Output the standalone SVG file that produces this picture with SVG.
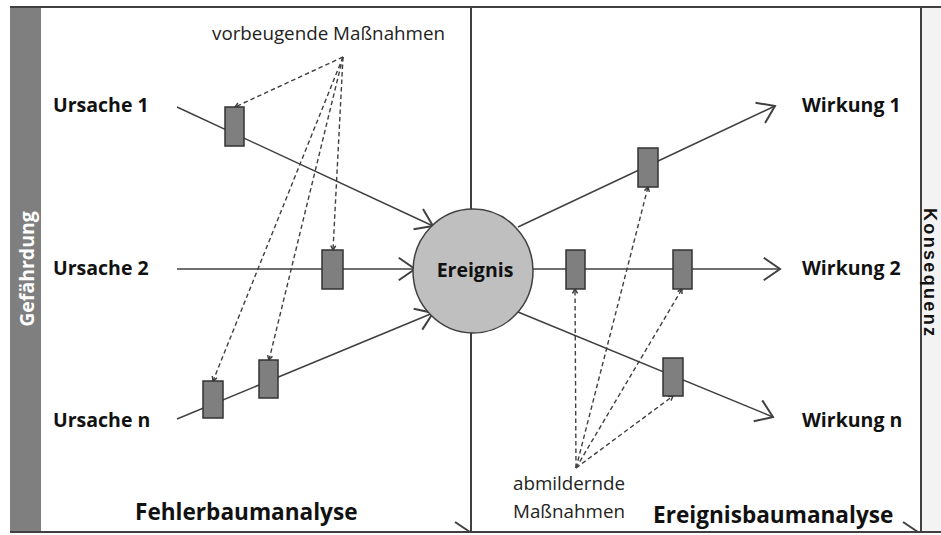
<svg xmlns="http://www.w3.org/2000/svg" width="941" height="535" viewBox="0 0 941 535">
  <style>
    .frame { stroke: #404040; stroke-width: 2; fill: none; }
    .flow { stroke: #404040; stroke-width: 1.5; fill: none; marker-end: url(#open); }
    .measure { stroke: #404040; stroke-width: 1.4; fill: none; stroke-dasharray: 4.5 3; marker-end: url(#tip); }
    .barrier { fill: #7f7f7f; stroke: #333333; stroke-width: 1.5; }
    .label { font-family: "Open Sans", "Liberation Sans", sans-serif; font-weight: bold; font-size: 19.5px; fill: #111111; }
    .note { font-family: "Open Sans", "Liberation Sans", sans-serif; font-size: 18.8px; fill: #222222; }
    .title { font-family: "Open Sans", "Liberation Sans", sans-serif; font-weight: bold; font-size: 22.6px; fill: #111111; }
  </style>
  <defs>
    <marker id="open" markerUnits="userSpaceOnUse" markerWidth="30" markerHeight="30" viewBox="-16 -12 20 24" refX="0" refY="0" orient="auto">
      <path d="M-13,-9 L0,0 L-13,9" fill="none" stroke="#404040" stroke-width="1.6"/>
    </marker>
    <marker id="tip" markerUnits="userSpaceOnUse" markerWidth="10" markerHeight="10" viewBox="-6 -4 8 8" refX="0" refY="0" orient="auto">
      <path d="M-3.5,-2 L0,0 L-3.5,2" fill="none" stroke="#404040" stroke-width="1.2"/>
    </marker>
  </defs>

  <rect width="941" height="535" fill="#ffffff"/>

  <!-- frame: side bars, border lines, centre divider -->
  <g id="frame">
    <rect x="10" y="7" width="31" height="525" fill="#7f7f7f"/>
    <rect x="921" y="7" width="20" height="525" fill="#f3f3f3"/>
    <line class="frame" x1="10" y1="7" x2="941" y2="7"/>
    <line class="frame" x1="10" y1="532" x2="941" y2="532"/>
    <line class="frame" x1="471" y1="7" x2="471" y2="532"/>
    <line class="frame" x1="921" y1="7" x2="921" y2="532"/>
    <path class="frame" d="M455,522 L470,532 M903,522 L918,532" stroke-width="1.6"/>
    <text transform="translate(34,269) rotate(-90)" text-anchor="middle" font-family="Open Sans, Liberation Sans, sans-serif" font-weight="bold" font-size="19.5" fill="#ffffff">Gefährdung</text>
    <text transform="translate(923.5,272) rotate(90)" text-anchor="middle" font-family="Liberation Sans, Arial, sans-serif" font-weight="bold" font-size="18" textLength="128" lengthAdjust="spacing" fill="#111111">Konsequenz</text>
  </g>

  <!-- causes, effects and the event connectors -->
  <g id="connectors">
    <line class="flow" x1="177" y1="107" x2="433" y2="226"/>
    <line class="flow" x1="177" y1="269" x2="415" y2="269"/>
    <line class="flow" x1="177" y1="419" x2="433" y2="313"/>
    <line class="flow" x1="518" y1="227" x2="775" y2="106"/>
    <line class="flow" x1="532" y1="269" x2="780" y2="269"/>
    <line class="flow" x1="518" y1="312" x2="773" y2="417"/>

    <!-- preventive measures -->
    <line class="measure" x1="343" y1="57" x2="235" y2="107"/>
    <line class="measure" x1="343" y1="57" x2="333" y2="250"/>
    <line class="measure" x1="343" y1="57" x2="269" y2="360"/>
    <line class="measure" x1="343" y1="57" x2="213" y2="381"/>
    <!-- mitigating measures -->
    <line class="measure" x1="576" y1="468" x2="575" y2="289"/>
    <line class="measure" x1="576" y1="468" x2="648" y2="187"/>
    <line class="measure" x1="576" y1="468" x2="682" y2="289"/>
    <line class="measure" x1="576" y1="468" x2="673" y2="396"/>
  </g>

  <!-- barriers on the paths -->
  <g id="barriers">
    <rect class="barrier" x="225" y="107" width="19" height="39"/>
    <rect class="barrier" x="322" y="250" width="21" height="39"/>
    <rect class="barrier" x="203" y="381" width="20" height="37"/>
    <rect class="barrier" x="259" y="360" width="19" height="38"/>
    <rect class="barrier" x="638" y="148" width="20" height="39"/>
    <rect class="barrier" x="566" y="250" width="19" height="39"/>
    <rect class="barrier" x="673" y="250" width="19" height="39"/>
    <rect class="barrier" x="663" y="358" width="20" height="38"/>
  </g>

  <g id="event">
    <ellipse cx="473" cy="271" rx="60" ry="62" fill="#bfbfbf" stroke="#404040" stroke-width="1.5"/>
    <text class="label" x="475" y="277" text-anchor="middle" font-size="20.5">Ereignis</text>
  </g>

  <g id="cause-1"><text class="label" x="53" y="112">Ursache 1</text></g>
  <g id="cause-2"><text class="label" x="53" y="275">Ursache 2</text></g>
  <g id="cause-n"><text class="label" x="53" y="427">Ursache n</text></g>
  <g id="effect-1"><text class="label" x="802" y="112">Wirkung 1</text></g>
  <g id="effect-2"><text class="label" x="802" y="275">Wirkung 2</text></g>
  <g id="effect-n"><text class="label" x="802" y="427">Wirkung n</text></g>

  <g id="preventive">
    <text class="note" x="212" y="40">vorbeugende Maßnahmen</text>
  </g>
  <g id="mitigating">
    <text class="note" x="513" y="490" font-size="20.5">abmildernde</text>
    <text class="note" x="513" y="518" font-size="20.5">Maßnahmen</text>
  </g>

  <g id="fault-tree"><text class="title" x="135" y="520">Fehlerbaumanalyse</text></g>
  <g id="event-tree"><text class="title" x="653" y="523">Ereignisbaumanalyse</text></g>
</svg>
